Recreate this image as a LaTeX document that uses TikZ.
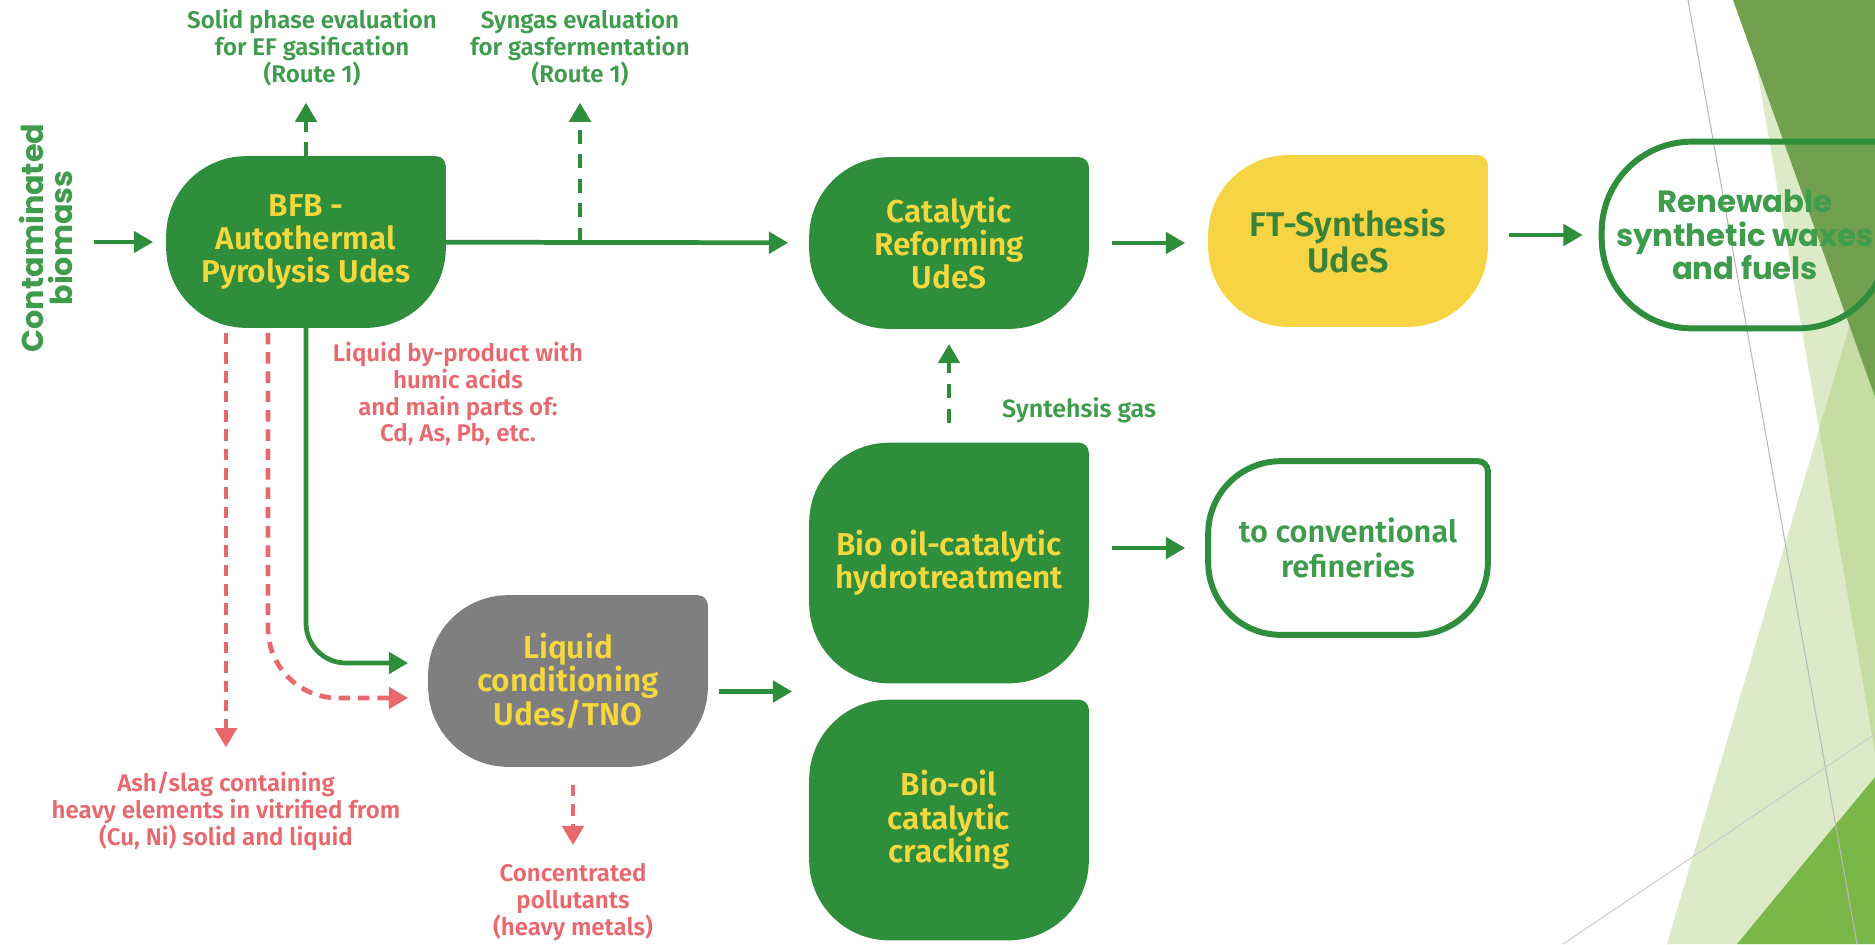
\documentclass[tikz,border=0pt]{standalone}
\usepackage{fontspec}
\setmainfont{Fira Sans}[BoldFont={* SemiBold}]
\newfontfamily\widefont{Poppins}
\usetikzlibrary{arrows.meta,positioning,backgrounds,calc}
\definecolor{boxgreen}{RGB}{46,142,60}
\definecolor{textgreen}{RGB}{62,156,76}
\definecolor{boxyellow}{RGB}{245,215,62}
\definecolor{ftyellow}{RGB}{247,212,68}
\definecolor{ftgreen}{RGB}{56,130,58}
\definecolor{boxgray}{RGB}{127,127,127}
\definecolor{pinkred}{RGB}{233,104,110}
\definecolor{decodark}{RGB}{113,160,79}
\definecolor{decomid}{RGB}{122,182,72}
\definecolor{decolight}{RGB}{155,196,94}
\newcommand\leafshape[3][1.6cm]{%
  \path[#3] ([yshift=-#1]#2.north west) arc[start angle=180,end angle=90,radius=#1]
    -- ([xshift=-0.2cm]#2.north east) arc[start angle=90,end angle=0,radius=0.2cm]
    -- ([yshift=#1]#2.south east) arc[start angle=0,end angle=-90,radius=#1]
    -- ([xshift=#1]#2.south west) arc[start angle=270,end angle=180,radius=#1] -- cycle;}
\begin{document}
\begin{tikzpicture}[x=0.02cm,y=-0.02cm,
  box/.style={inner sep=0pt,minimum width=5.58cm,minimum height=3.42cm,align=center,text=boxyellow,
    font=\bfseries\fontsize{18}{19}\selectfont},
  tallbox/.style={box,minimum height=4.8cm},
  note/.style={align=center,font=\bfseries\fontsize{13.7}{15.3}\selectfont},
  flow/.style={line width=2.7pt,draw=boxgreen,-{Triangle[length=11pt,width=12pt]}},
  dflow/.style={flow,dash pattern=on 8pt off 6pt},
  rflow/.style={flow,draw=pinkred,dash pattern=on 6.5pt off 4.5pt}]
\useasboundingbox (0,0) rectangle (1875,944);

\node [box] (bfb) at (306,242) {BFB -\\Autothermal\\Pyrolysis Udes};
\node [note,rotate=90,text=textgreen,font=\widefont\bfseries\fontsize{17.2}{17}\selectfont] (bio) at (46,238) {Contaminated\\biomass};
\node [box] (cat) at (949,243) {Catalytic\\Reforming\\UdeS};
\node [box,text=ftgreen,font=\bfseries\fontsize{19.5}{20}\selectfont] (ft) at (1348,241) {FT-Synthesis\\UdeS};
\node [box,text=textgreen,minimum width=5.72cm,minimum height=3.72cm,font=\widefont\bfseries\fontsize{17.5}{19}\selectfont] (ren) at (1745,235) {Renewable\\synthetic waxes\\and fuels};
\node [tallbox] (hyd) at (949,563) {Bio oil-catalytic\\hydrotreatment};
\node [tallbox] (crk) at (949,820) {Bio-oil\\catalytic\\cracking};
\node [box] (lqc) at (568,681) {Liquid\\conditioning\\Udes/TNO};
\node [box,text=textgreen,minimum height=3.46cm,font=\bfseries\fontsize{17.5}{20}\selectfont] (conv) at (1348,548) {to conventional\\refineries};

\node [note,text=textgreen] (solid) at (312,48) {Solid phase evaluation\\for EF gasification\\(Route 1)};
\node [note,text=textgreen] (sgev) at (580,48) {Syngas evaluation\\for gasfermentation\\(Route 1)};
\node [note,text=pinkred] (byp) at (458,394) {Liquid by-product with\\humic acids\\and main parts of:\\Cd, As, Pb, etc.};
\node [note,text=textgreen,anchor=west,font=\bfseries\fontsize{14.2}{15.3}\selectfont] (sgas) at (996,410) {Syntehsis gas};
\node [note,text=pinkred] (ash) at (226,811) {Ash/slag containing\\heavy elements in vitrified from\\(Cu, Ni) solid and liquid};
\node [note,text=pinkred] (conc) at (573,902) {Concentrated\\pollutants\\(heavy metals)};

\coordinate (gap) at ($(hyd.south west)!0.5!(crk.north west)$);
\coordinate (syn) at (bfb.east -| sgev.south);

\begin{scope}[on background layer]
\fill [decolight,opacity=0.35] (1745,0) -- (1875,0) -- (1875,753) -- cycle;
\fill [decolight,opacity=0.35] (1667,944) -- (1875,240) -- (1875,944) -- cycle;
\fill [decodark] (1733,0) -- (1875,0) -- (1875,397) -- cycle;
\fill [decomid] (1737,944) -- (1875,777) -- (1875,944) -- cycle;
\draw [gray!55,line width=0.6pt] (1688,0) -- (1857,944);
\draw [gray!40,line width=0.6pt] (1563,944) -- (1875,734);
\foreach \n in {bfb,cat,hyd,crk} \leafshape{\n}{fill=boxgreen};
\leafshape{ft}{fill=ftyellow}
\leafshape{lqc}{fill=boxgray}
\leafshape[1.45cm]{conv}{draw=boxgreen,line width=3.4pt}
\leafshape[1.8cm]{ren}{draw=boxgreen,line width=3.4pt}
\end{scope}

\draw [flow,shorten <=0.96cm,shorten >=0.26cm] (bio |- bfb) -- (bfb);
\draw [flow,shorten >=0.42cm] (bfb) -- (cat);
\draw [dflow,shorten >=0.2cm] (bfb.north) -- (bfb.north |- solid.south);
\draw [dflow,shorten >=0.2cm] (syn) -- (syn |- sgev.south);
\draw [flow,shorten <=0.46cm,shorten >=0.46cm] (cat) -- (ft.west |- cat);
\draw [flow,shorten <=0.42cm,shorten >=0.38cm] (ft.east |- ren) -- (ren);
\draw [dflow,shorten <=0.4cm,shorten >=0.3cm] (hyd) -- (cat);
\draw [flow,shorten <=0.46cm,shorten >=0.46cm] (hyd.east |- conv) -- (conv);
\draw [flow,shorten <=0.22cm,shorten >=0.34cm] (lqc.east |- gap) -- (gap);
\draw [flow,rounded corners=0.8cm,shorten >=0.4cm] (bfb.south) |- ([yshift=0.36cm]lqc.west);
\draw [rflow,rounded corners=1.4cm,shorten <=0.1cm,shorten >=0.4cm] ([xshift=-0.76cm]bfb.south) |- ([yshift=-0.34cm]lqc.west);
\draw [rflow,shorten <=0.1cm,shorten >=0.36cm] (bfb.south -| ash.north) -- (ash.north);
\draw [rflow,shorten <=0.36cm,shorten >=0.24cm] (lqc.south -| conc.north) -- (conc.north);
\end{tikzpicture}
\end{document}
